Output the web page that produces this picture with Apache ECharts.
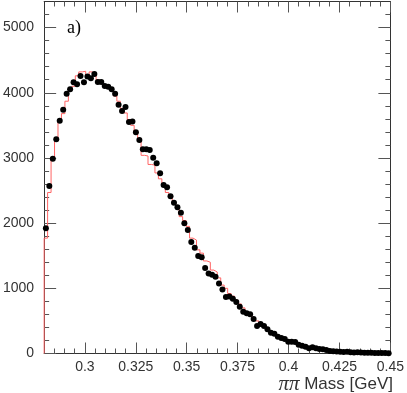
<!DOCTYPE html>
<html><head><meta charset="utf-8">
<script src="https://cdn.jsdelivr.net/npm/echarts@6/dist/echarts.min.js"></script>
<style>html,body{margin:0;padding:0;background:#fff}#c{width:407px;height:393px}</style>
</head><body><div id="c"></div>
<script>
// binning of the mass axis (GeV)
const massMin = 0.28, massMax = 0.45, nBins = 100;
// measured events per bin (points)
const dataCounts = [
 1920,2569,2988,3285,3571,3740,3985,4052,4160,4129,
 4256,4160,4250,4221,4287,4164,4164,4103,4092,4052,
 3985,3816,3719,3781,3551,3561,3395,3275,3135,3135,
 3120,3003,2917,2764,2584,2549,2411,2313,2242,2160,
 1997,1894,1710,1623,1495,1475,1313,1227,1209,1178,
 1074,980,867,875,841,790,718,641,617,601,
 529,422,452,422,371,319,304,258,238,222,
 181,181,176,135,120,104,80,95,80,69,
 64,54,40,35,32,28,22,25,20,16,
 18,14,12,12,10,8,9,7,6,5];
// simulated histogram per bin (red steps)
const mcCounts = [
 1770,2470,2990,3280,3560,3680,3870,4060,4100,4260,
 4320,4330,4250,4320,4260,4200,4160,4120,4080,4040,
 3950,3870,3760,3690,3590,3500,3390,3300,3040,3030,
 2900,2890,2770,2680,2570,2470,2400,2310,2250,2100,
 2040,1950,1770,1740,1590,1540,1420,1400,1280,1250,
 1160,1050,1000,920,880,820,760,700,640,590,
 540,500,460,410,370,330,300,270,240,210,
 185,165,150,130,115,100,88,76,66,58,
 50,44,38,33,29,25,22,19,16,14,
 12,10,9,8,7,6,5,4,3,3];
// tick values / labels
const xMajor = [0.3,0.325,0.35,0.375,0.4,0.425,0.45];
const xLabels = ['0.3','0.325','0.35','0.375','0.4','0.425','0.45'];
const xMinor = [0.285,0.29,0.295,0.305,0.31,0.315,0.32,0.33,0.335,0.34,0.345,0.355,0.36,0.365,0.37,
 0.38,0.385,0.39,0.395,0.405,0.41,0.415,0.42,0.43,0.435,0.44,0.445];
const yMajor = [0,1000,2000,3000,4000,5000];
const yLabels = ['0','1000','2000','3000','4000','5000'];
const yMinor = [200,400,600,800,1200,1400,1600,1800,2200,2400,2600,2800,3200,3400,3600,3800,
 4200,4400,4600,4800,5200];
const yMin = 0, yMax = 5400;

const binW = (massMax - massMin) / nBins;
const points = dataCounts.map((v,i)=>[massMin + (i+0.5)*binW, v]);
const steps = [[massMin,0]];
mcCounts.forEach((v,i)=>steps.push([massMin + i*binW, v]));
steps.push([massMax, mcCounts[mcCounts.length-1]]);

const axCol = '#333', tkCol = '#555';
function xAx(pos, ticks, len, labels, line){
  return {type:'value', min:massMin, max:massMax, position:pos,
    axisLine:{show:line, onZero:false, lineStyle:{color:axCol, width:1}},
    axisTick:{show:true, inside:true, length:len, customValues:ticks, lineStyle:{color:tkCol}},
    axisLabel: labels ? {show:true, customValues:xMajor, margin:7, fontSize:14, color:'#333',
      fontFamily:'Liberation Sans', formatter:(v)=>{const k=xMajor.findIndex(t=>Math.abs(t-v)<1e-9);return k>=0?xLabels[k]:'';}} : {show:false},
    splitLine:{show:false}};
}
function yAx(pos, ticks, len, labels, line){
  return {type:'value', min:yMin, max:yMax, position:pos,
    axisLine:{show:line, onZero:false, lineStyle:{color:axCol, width:1}},
    axisTick:{show:true, inside:true, length:len, customValues:ticks, lineStyle:{color:tkCol}},
    axisLabel: labels ? {show:true, customValues:yMajor, margin:10, fontSize:14, color:'#333',
      fontFamily:'Liberation Sans', formatter:(v)=>{const k=yMajor.indexOf(v);return k>=0?yLabels[k]:'';}} : {show:false},
    splitLine:{show:false}};
}
const chart = echarts.init(document.getElementById('c'), null, {renderer:'canvas'});
chart.setOption({
  animation:false,
  grid:{left:40.7, right:14.3, top:1.5, bottom:39.5, containLabel:false},
  xAxis:[
    xAx('bottom', xMajor, 11, true, true),
    xAx('bottom', xMinor, 5, false, false),
    xAx('top', xMajor, 11, false, true),
    xAx('top', xMinor, 5, false, false)
  ],
  yAxis:[
    yAx('left', yMajor, 12, true, true),
    yAx('left', yMinor, 5, false, false),
    yAx('right', yMajor, 12, false, true),
    yAx('right', yMinor, 5, false, false)
  ],
  series:[
    {type:'line', xAxisIndex:0, yAxisIndex:0, data:steps, step:'end', showSymbol:false,
     lineStyle:{color:'#ff6464', width:1}, z:2},
    {type:'scatter', xAxisIndex:0, yAxisIndex:0, data:points, symbol:'circle', symbolSize:6,
     itemStyle:{color:'#000', opacity:1}, z:3}
  ],
  graphic:[
    {type:'text', left:67, top:19, style:{text:'a)', font:'18px "Liberation Serif"', fill:'#000'}},
    {type:'text', right:14, top:374, style:{text:'{p|ππ} Mass [GeV]', font:'17px "Liberation Sans"', fill:'#333',
      rich:{p:{font:'italic 21px "Liberation Serif"', fill:'#333'}}}}
  ]
});
</script></body></html>
